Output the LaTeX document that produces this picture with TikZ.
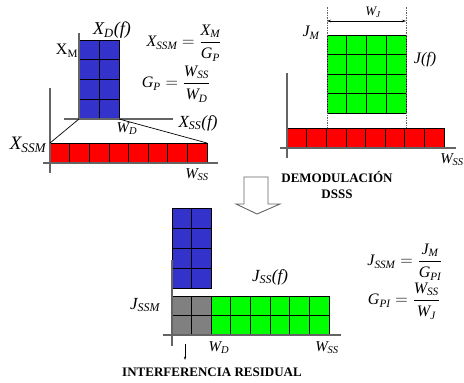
\documentclass[tikz,border=0pt]{standalone}
\usepackage{fontspec}
\setmainfont{Liberation Serif}
\usepackage{amsmath}
\usetikzlibrary{arrows.meta}
\definecolor{sigblue}{RGB}{51,51,204}
\definecolor{sigred}{RGB}{255,0,0}
\definecolor{jamgreen}{RGB}{0,255,0}
\definecolor{resgray}{RGB}{128,128,128}
\definecolor{axisgray}{RGB}{100,100,100}
\newcommand\lsub[1]{\textsubscript{#1}}
\newcommand\ti[1]{\text{\itshape #1}}
\tikzset{
  % --- spectrum cells --------------------------------------------------------
  cell/.style={draw=black,line width=0.7pt},
  bluecell/.style={cell,fill=sigblue},
  redcell/.style={cell,fill=sigred},
  greencell/.style={cell,fill=jamgreen},
  graycell/.style={cell,fill=resgray},
  % --- axes and guides -------------------------------------------------------
  axis/.style={axisgray,line width=1.3pt},
  flare/.style={black,line width=0.7pt},
  guide/.style={axisgray,line width=0.5pt,dash pattern=on 1.5pt off 1pt},
  dimarr/.style={{Stealth[length=4pt,width=2.5pt]}-{Stealth[length=4pt,width=2.5pt]},black,line width=0.4pt},
  pointer/.style={-{Stealth[length=3.5pt,width=2pt]},black,line width=0.4pt},
  bigarrow/.style={draw=axisgray,fill=white,line width=0.9pt,line join=miter},
  % --- texts -----------------------------------------------------------------
  lbl/.style={inner sep=0pt,font=\fontsize{#1}{#1}\selectfont\itshape},
  eq/.style={inner sep=0pt,font=\fontsize{16}{18}\selectfont},
  note/.style={inner sep=0pt,align=center,font=\fontsize{13}{16}\selectfont\bfseries},
}
\begin{document}
\begin{tikzpicture}[x=1pt,y=-1pt]
  \useasboundingbox (0,0) rectangle (464,383);

  % ---- top left: signal before spreading ----
  \foreach \c in {0,1} \foreach \r in {0,...,3}
    \draw[bluecell] (79+\c*20,40+\r*19.75) rectangle ++(20,19.75);
  \foreach \c in {0,...,7}
    \draw[redcell] (50+\c*19.625,143) rectangle ++(19.625,20);
  \coordinate (bsw) at (79,119);
  \coordinate (bse) at (119,119);
  \coordinate (rnw) at (50,143);
  \coordinate (rne) at (207,143);
  \coordinate (ya1) at (79,33);   \coordinate (ya2) at (79,119);
  \coordinate (xa1) at (64,119);  \coordinate (xa2) at (173,119);
  \coordinate (yb1) at (50,88);   \coordinate (yb2) at (50,173);
  \coordinate (xb1) at (43,163);  \coordinate (xb2) at (218,163);
  \draw[axis] (ya1) -- (ya2);
  \draw[axis] (xa1) -- (xa2);
  \draw[axis] (yb1) -- (yb2);
  \draw[axis] (xb1) -- (xb2);
  \draw[flare] (bsw) -- (rnw);
  \draw[flare] (bse) -- (rne);
  \node[lbl=18] (xdf)  at (112,30)  {X\lsub{D}(f)};
  \node[lbl=16] (xm)   at (67,51)   {\upshape X\lsub{M}};
  \node[lbl=17] (xssf) at (198,123) {X\lsub{SS}(f)};
  \node[lbl=15] (wd1)  at (127,129) {W\lsub{D}};
  \node[lbl=19] (xssm) at (28,145)  {X\lsub{SSM}};
  \node[lbl=15] (wss1) at (197,175) {W\lsub{SS}};
  \node[eq] (eqx) at (184,43)
    {$\ti{X}_{\ti{SSM}}=\dfrac{\ti{X}_{\ti{M}}}{\ti{G}_{\ti{P}}}$};
  \node[eq] (eqg) at (176,84)
    {$\ti{G}_{\ti{P}}=\dfrac{\ti{W}_{\ti{SS}}}{\ti{W}_{\ti{D}}}$};

  % ---- top right: jammer over the spread signal ----
  \foreach \c in {0,...,3} \foreach \r in {0,...,3}
    \draw[greencell] (327+\c*19.75,35+\r*19.5) rectangle ++(19.75,19.5);
  \foreach \c in {0,...,7}
    \draw[redcell] (287+\c*19.625,128) rectangle ++(19.625,20);
  \coordinate (g1t) at (327,7);   \coordinate (g1b) at (327,128);
  \coordinate (g2t) at (406,7);   \coordinate (g2b) at (406,128);
  \coordinate (wja) at (327,21);  \coordinate (wjb) at (406,21);
  \coordinate (yc1) at (287,73);  \coordinate (yc2) at (287,158);
  \coordinate (xc1) at (280,148); \coordinate (xc2) at (456,148);
  \draw[guide] (g1t) -- (g1b);
  \draw[guide] (g2t) -- (g2b);
  \draw[dimarr] (wja) -- (wjb);
  \draw[axis] (yc1) -- (yc2);
  \draw[axis] (xc1) -- (xc2);
  \node[lbl=13] (wj)   at (373,12)  {W\lsub{J}};
  \node[lbl=16] (jm)   at (311,33)  {J\lsub{M}};
  \node[lbl=16] (jf)   at (425,60)  {J(f)};
  \node[lbl=15] (wss2) at (452,160) {W\lsub{SS}};

  % ---- despreading step ----
  \draw[bigarrow] (244,177) -- (268,177) -- (268,204) -- (280,204)
    -- (257,214) -- (236,204) -- (244,204) -- cycle;
  \node[note] (demod) at (337,185) {DEMODULACIÓN\\DSSS};

  % ---- bottom: after despreading ----
  \foreach \c in {0,1} \foreach \r in {0,...,3}
    \draw[bluecell] (172+\c*19.5,208+\r*20) rectangle ++(19.5,20);
  \foreach \c in {0,1} \foreach \r in {0,1}
    \draw[graycell] (172+\c*19.5,296+\r*19.5) rectangle ++(19.5,19.5);
  \foreach \c in {0,...,5} \foreach \r in {0,1}
    \draw[greencell] (211+\c*19.67,296+\r*19.5) rectangle ++(19.67,19.5);
  \coordinate (yd1) at (172,260); \coordinate (yd2) at (172,346);
  \coordinate (xd1) at (163,335); \coordinate (xd2) at (341,335);
  \coordinate (ra) at (185,344);  \coordinate (rb) at (185,360);
  \draw[axis] (yd1) -- (yd2);
  \draw[axis] (xd1) -- (xd2);
  \draw[pointer] (ra) -- (rb);
  \node[lbl=17] (jssf) at (270,277) {J\lsub{SS}(f)};
  \node[lbl=17] (jssm) at (145,305) {J\lsub{SSM}};
  \node[lbl=15] (wd2)  at (219,348) {W\lsub{D}};
  \node[lbl=15] (wss3) at (327,348) {W\lsub{SS}};
  \node[note] (resid) at (212,372) {INTERFERENCIA RESIDUAL};
  \node[eq] (eqj) at (405,262)
    {$\ti{J}_{\ti{SSM}}=\dfrac{\ti{J}_{\ti{M}}}{\ti{G}_{\ti{PI}}}$};
  \node[eq] (eqgp) at (404,301)
    {$\ti{G}_{\ti{PI}}=\dfrac{\ti{W}_{\ti{SS}}}{\ti{W}_{\ti{J}}}$};
\end{tikzpicture}
\end{document}
